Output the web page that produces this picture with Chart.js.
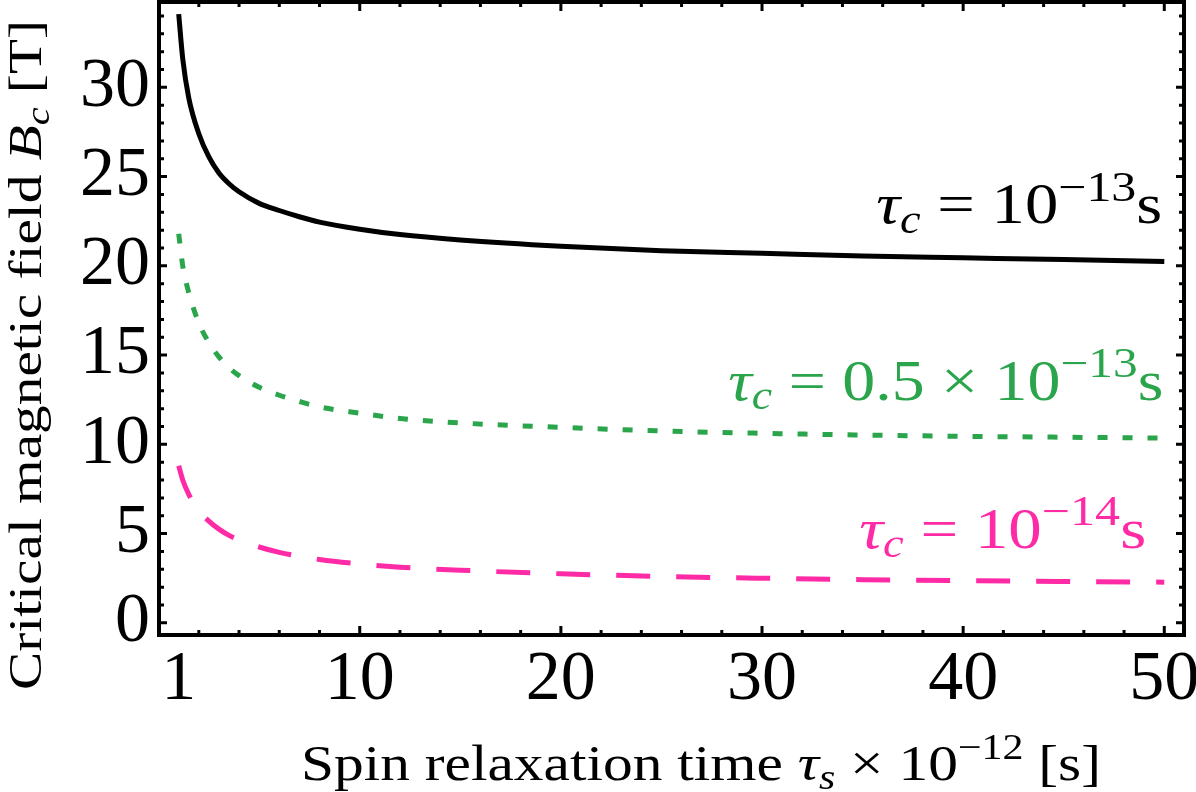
<!DOCTYPE html>
<html>
<head>
<meta charset="utf-8">
<script src="https://cdn.jsdelivr.net/npm/chart.js@4.4.1/dist/chart.umd.min.js"></script>
<style>
  html, body { margin: 0; padding: 0; background: #fff; }
  #wrap { width: 1196px; height: 792px; }
</style>
</head>
<body>
<div id="wrap"><canvas id="chart" width="1196" height="792"></canvas></div>
<script>
// values
const tauS = [1, 1.2, 1.5, 2, 2.5, 3, 3.5, 4, 5, 6, 7, 8, 10, 12, 15, 20, 25, 30, 35, 40, 45, 50];
const bcTau1e13 = [34.1, 31.6, 29.4, 27.4, 26.1, 25.2, 24.6, 24.15, 23.5, 23.1, 22.75, 22.45, 22.05, 21.75, 21.45, 21.1, 20.85, 20.7, 20.55, 20.45, 20.35, 20.25];
const bcTau05e13 = [21.8, 20.0, 18.5, 16.8, 15.7, 14.9, 14.3, 13.85, 13.2, 12.75, 12.4, 12.1, 11.75, 11.45, 11.2, 10.95, 10.75, 10.62, 10.52, 10.45, 10.4, 10.35];
const bcTau1e14 = [8.8, 8.0, 7.2, 6.3, 5.7, 5.25, 4.9, 4.65, 4.25, 3.95, 3.73, 3.55, 3.3, 3.12, 2.95, 2.75, 2.6, 2.5, 2.42, 2.36, 2.32, 2.28];
const xTickValues = [1, 10, 20, 30, 40, 50];
const yTickValues = [0, 5, 10, 15, 20, 25, 30];

const SERIF = "'Liberation Serif', 'Times New Roman', serif";
const GREEN = '#2aa54b';
const PINK = '#ff2ba6';

function pts(ys) {
  return tauS.map((x, i) => ({ x: x, y: ys[i] }));
}

// rich text: parts with italic / size / baseline shift (in em)
function fontFor(p, size) {
  return (p.i ? 'italic ' : '') + Math.round(size * (p.s || 1)) + 'px ' + SERIF;
}
function richWidth(ctx, parts, size) {
  let w = 0;
  parts.forEach(p => { ctx.font = fontFor(p, size); w += ctx.measureText(p.t).width; });
  return w;
}
function drawRich(ctx, parts, size, x, y, align, target) {
  const w = richWidth(ctx, parts, size);
  const sx = target ? target / w : 1;
  ctx.save();
  ctx.translate(x, y);
  ctx.scale(sx, 1);
  let cx = align === 'right' ? -w : align === 'center' ? -w / 2 : 0;
  ctx.textBaseline = 'alphabetic';
  ctx.textAlign = 'left';
  parts.forEach(p => {
    ctx.font = fontFor(p, size);
    ctx.fillText(p.t, cx, (p.dy || 0) * size);
    cx += ctx.measureText(p.t).width;
  });
  ctx.restore();
}

const tauC = [{ t: 'τ', i: 1 }, { t: 'c', i: 1, s: 0.7, dy: 0.17 }];
const notes = [
  { parts: tauC.concat([{ t: ' = 10' }, { t: '−13', s: 0.75, dy: -0.4 }, { t: 's' }]), color: '#000', x: 49.9, y: 22.4, w: 286 },
  { parts: tauC.concat([{ t: ' = 0.5 × 10' }, { t: '−13', s: 0.75, dy: -0.4 }, { t: 's' }]), color: GREEN, x: 49.95, y: 12.5, w: 435 },
  { parts: tauC.concat([{ t: ' = 10' }, { t: '−14', s: 0.75, dy: -0.4 }, { t: 's' }]), color: PINK, x: 49.1, y: 4.2, w: 287 }
];

// frame with inward ticks on all four sides, curve labels, axis titles
const framePlugin = {
  id: 'frame',
  afterDraw(chart) {
    const { ctx, chartArea: a, scales: { x, y } } = chart;
    ctx.save();
    ctx.strokeStyle = '#000';
    ctx.lineWidth = 4;
    ctx.strokeRect(a.left, a.top, a.right - a.left, a.bottom - a.top);

    ctx.lineWidth = 3;
    ctx.beginPath();
    for (let v = 2; v <= 50; v += 2) {
      const px = x.getPixelForValue(v);
      const len = v % 10 === 0 ? 9 : 5;
      ctx.moveTo(px, a.bottom); ctx.lineTo(px, a.bottom - len);
      ctx.moveTo(px, a.top); ctx.lineTo(px, a.top + len);
    }
    for (let v = 0; v <= 34; v++) {
      const py = y.getPixelForValue(v);
      const len = v % 5 === 0 ? 8 : 5;
      ctx.moveTo(a.left, py); ctx.lineTo(a.left + len, py);
      ctx.moveTo(a.right, py); ctx.lineTo(a.right - len, py);
    }
    ctx.stroke();

    notes.forEach(n => {
      ctx.fillStyle = n.color;
      drawRich(ctx, n.parts, 56, x.getPixelForValue(n.x), y.getPixelForValue(n.y), 'right', n.w);
    });

    ctx.fillStyle = '#000';
    drawRich(ctx, [
      { t: 'Spin relaxation time ' }, { t: 'τ', i: 1 }, { t: 's', i: 1, s: 0.7, dy: 0.17 },
      { t: ' × 10' }, { t: '−12', s: 0.7, dy: -0.42 }, { t: ' [s]' }
    ], 51, 701, 780, 'center', 800);

    ctx.save();
    ctx.translate(41, 355);
    ctx.rotate(-Math.PI / 2);
    drawRich(ctx, [
      { t: 'Critical magnetic field ' }, { t: 'B', i: 1 }, { t: 'c', i: 1, s: 0.7, dy: 0.17 }, { t: ' [T]' }
    ], 47, 0, 0, 'center', 670);
    ctx.restore();

    ctx.restore();
  }
};

new Chart(document.getElementById('chart'), {
  type: 'line',
  data: {
    datasets: [
      { data: pts(bcTau1e13), borderColor: '#000', borderWidth: 5 },
      { data: pts(bcTau05e13), borderColor: GREEN, borderWidth: 5, borderDash: [10, 15] },
      { data: pts(bcTau1e14), borderColor: PINK, borderWidth: 5, borderDash: [34, 26] }
    ]
  },
  options: {
    responsive: false,
    animation: false,
    devicePixelRatio: 1,
    layout: { padding: { top: 2, right: 12, left: 0, bottom: 0 } },
    elements: {
      point: { radius: 0 },
      line: { cubicInterpolationMode: 'monotone', borderCapStyle: 'butt', fill: false }
    },
    plugins: { legend: { display: false }, tooltip: { enabled: false } },
    scales: {
      x: {
        type: 'linear', min: 0.02, max: 50.98,
        grid: { display: false, drawTicks: false },
        border: { display: false },
        ticks: { autoSkip: false, maxRotation: 0, padding: 4, color: '#000', font: { family: SERIF, size: 70 } },
        afterBuildTicks: s => { s.ticks = xTickValues.map(v => ({ value: v })); },
        afterFit: s => { s.height = 157; s.paddingLeft = 0; s.paddingRight = 0; }
      },
      y: {
        type: 'linear', min: -0.68, max: 34.78,
        grid: { display: false, drawTicks: false },
        border: { display: false },
        ticks: { autoSkip: false, padding: 9, color: '#000', font: { family: SERIF, size: 70 } },
        afterBuildTicks: s => { s.ticks = yTickValues.map(v => ({ value: v })); },
        afterFit: s => { s.width = 159; s.paddingTop = 0; s.paddingBottom = 0; }
      }
    }
  },
  plugins: [framePlugin]
});
</script>
</body>
</html>
